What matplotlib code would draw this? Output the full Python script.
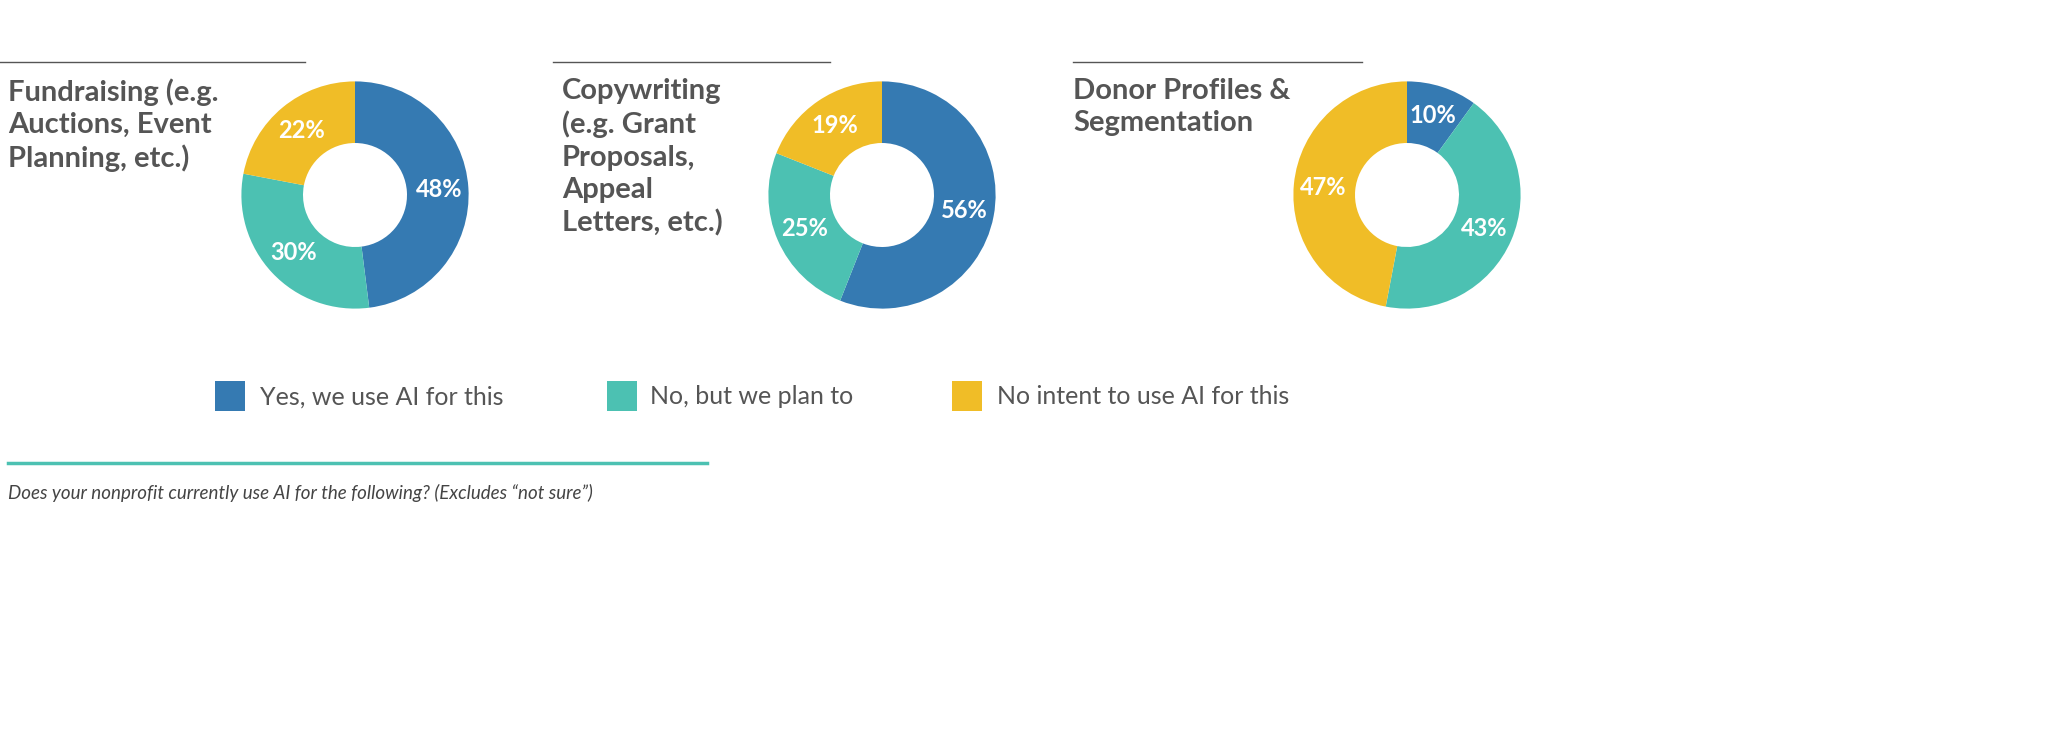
import matplotlib
matplotlib.use("Agg")
import matplotlib.pyplot as plt
from matplotlib.patches import Rectangle

W, H = 2048, 756
categories = ["Fundraising (e.g.\nAuctions, Event\nPlanning, etc.)",
              "Copywriting\n(e.g. Grant\nProposals,\nAppeal\nLetters, etc.)",
              "Donor Profiles &\nSegmentation"]
yes_vals = [48, 56, 10]
plan_vals = [30, 25, 43]
no_vals = [22, 19, 47]
legend_labels = ["Yes, we use AI for this", "No, but we plan to", "No intent to use AI for this"]
colors = ["#357ab2", "#4cc1b2", "#f0bd27"]
caption = "Does your nonprofit currently use AI for the following? (Excludes \u201cnot sure\u201d)"

fig = plt.figure(figsize=(W/100, H/100), dpi=100)
bg = fig.add_axes([0, 0, 1, 1])
bg.set_xlim(0, W); bg.set_ylim(H, 0); bg.axis("off")

centers = [355, 882, 1407]
cy, R, r_in = 195, 142, 65
title_x = [8, 562, 1073]
lines = [(0, 305), (553, 830), (1073, 1362)]
for i, cx in enumerate(centers):
    ax = fig.add_axes([(cx-R)/W, (H-cy-R)/H, 2*R/W, 2*R/H])
    vals = [yes_vals[i], plan_vals[i], no_vals[i]]
    wedges, _ = ax.pie(vals, colors=colors, startangle=90, counterclock=False,
                       radius=1, wedgeprops=dict(width=1-r_in/R, linewidth=0))
    import numpy as np
    start = 90
    for v in vals:
        mid = np.deg2rad(start - v*3.6/2)
        ax.text(0.74*np.cos(mid), 0.74*np.sin(mid), f"{v}%", ha="center", va="center",
                color="white", fontsize=17, fontweight="bold", family="Lato")
        start -= v*3.6
    ax.set_aspect("equal")
    bg.plot(lines[i], [62, 62], color="#555555", lw=1)
    bg.text(title_x[i], 78, categories[i], ha="left", va="top", fontsize=21,
            color="#555555", family="Lato", fontweight="bold", linespacing=1.3)

sq_x = [215, 607, 952]
txt_x = [260, 650, 997]
for i in range(3):
    bg.add_patch(Rectangle((sq_x[i], 381), 30, 30, color=colors[i], lw=0))
    bg.text(txt_x[i], 397, legend_labels[i], ha="left", va="center", fontsize=18,
            color="#555555", family="Lato")

bg.plot([8, 707], [463, 463], color="#4cc1b2", lw=2.5)
bg.text(8, 493, caption, ha="left", va="center", fontsize=13.5, style="italic",
        color="#444444", family="Lato")

fig.savefig("out.png", dpi=100, facecolor="white")
